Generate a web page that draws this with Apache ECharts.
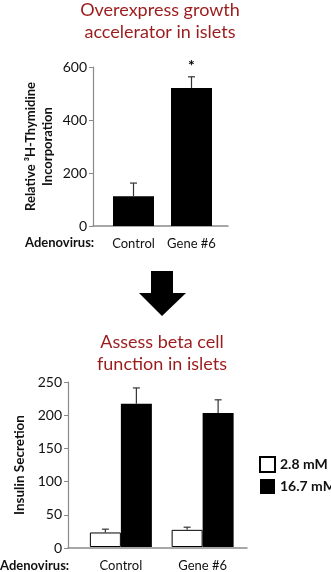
<!DOCTYPE html>
<html>
<head>
<meta charset="utf-8">
<script src="https://cdn.jsdelivr.net/npm/echarts@6/dist/echarts.min.js"></script>
<style>
  html, body { margin: 0; padding: 0; background: #fff; }
  #chart { width: 331px; height: 572px; }
</style>
</head>
<body>
<div id="chart"></div>
<script>
// 上图：胸腺嘧啶掺入
const topCategories = ["Control", "Gene #6"];
const topValues = [112, 521];
const topErrors = [50, 42];
const topMarks = ["", "*"];
const topTicks = { min: 0, max: 600, interval: 200 };

// 下图：胰岛素分泌
const bottomCategories = ["Control", "Gene #6"];
const lowGlucose = [22, 26];
const lowGlucoseErr = [5, 4];
const highGlucose = [217, 203];
const highGlucoseErr = [24, 20];
const bottomTicks = { min: 0, max: 250, interval: 50 };
const legendNames = ["2.8 mM", "16.7 mM"];

const FONT = "Lato";
const RED = "#9b1c1c";
const AXIS = "#8a8a8a";

const chart = echarts.init(document.getElementById("chart"));

// 误差线（只画上半部分）
function errorBar(values, errors, shift, marks) {
  return function (params, api) {
    const i = api.value(0);
    const top = api.coord([i, values[i] + errors[i]]);
    const base = api.coord([i, values[i]]);
    const x = top[0] + shift;
    const children = [
      { type: "line", shape: { x1: x, y1: base[1], x2: x, y2: top[1] }, style: { stroke: "#333", lineWidth: 1.2 } },
      { type: "line", shape: { x1: x - 3.5, y1: top[1], x2: x + 3.5, y2: top[1] }, style: { stroke: "#333", lineWidth: 1.2 } },
    ];
    if (marks && marks[i]) {
      children.push({
        type: "text",
        style: { text: marks[i], x: x, y: top[1] - 11, align: "center", verticalAlign: "middle", font: "bold 16px " + FONT, fill: "#000" },
      });
    }
    return { type: "group", children: children };
  };
}

const hiddenAxis = { show: false };
const titleStyle = { color: RED, fontSize: 18, fontWeight: "normal", lineHeight: 22, fontFamily: FONT };
const boldText = { color: "#111", fontSize: 13, fontWeight: "bold", fontFamily: FONT };

const option = {
  animation: false,
  textStyle: { fontFamily: FONT },
  title: [
    { text: "Overexpress growth\naccelerator in islets", left: 160, top: -1, padding: 0, textAlign: "center", textStyle: titleStyle },
    { text: "Assess beta cell\nfunction in islets", left: 162, top: 331, padding: 0, textAlign: "center", textStyle: titleStyle },
    { text: "Adenovirus:", left: 25, top: 236, padding: 0, textStyle: boldText },
    { text: "Adenovirus:", left: 0, top: 559, padding: 0, textStyle: boldText },
  ],
  legend: {
    data: legendNames,
    orient: "vertical",
    left: 259,
    top: 456,
    padding: 0,
    itemWidth: 15,
    itemHeight: 15,
    itemGap: 6,
    icon: "rect",
    selectedMode: false,
    textStyle: { fontSize: 14, fontWeight: "bold", color: "#111", fontFamily: FONT },
  },
  grid: [
    { left: 93, top: 67, width: 135, height: 159 },
    { left: 104.5, top: 67, width: 116, height: 159 },
    { left: 68, top: 382, width: 179, height: 166 },
    { left: 80, top: 382, width: 163.5, height: 166 },
  ],
  xAxis: [
    { gridIndex: 0, type: "category", data: [], axisLine: { lineStyle: { color: AXIS, width: 1.5 } }, axisTick: { show: false }, axisLabel: { show: false } },
    { gridIndex: 1, type: "category", data: topCategories, axisLine: { show: false }, axisTick: { show: false },
      axisLabel: { interval: 0, margin: 11, fontSize: 13, color: "#111", fontFamily: FONT } },
    { gridIndex: 2, type: "category", data: [], axisLine: { lineStyle: { color: AXIS, width: 1.5 } }, axisTick: { show: false }, axisLabel: { show: false } },
    { gridIndex: 3, type: "category", data: bottomCategories, axisLine: { show: false }, axisTick: { show: false },
      axisLabel: { interval: 0, margin: 12, fontSize: 13, color: "#111", fontFamily: FONT } },
  ],
  yAxis: [
    { gridIndex: 0, type: "value", min: topTicks.min, max: topTicks.max, interval: topTicks.interval,
      axisLine: { show: true, lineStyle: { color: AXIS, width: 1.2 } },
      axisTick: { show: true, length: 4, lineStyle: { color: AXIS } },
      axisLabel: { fontSize: 14, color: "#111", margin: 6, fontFamily: FONT },
      splitLine: { show: false },
      name: "Relative ³H-Thymidine\nIncorporation", nameLocation: "middle", nameRotate: 90, nameGap: 37,
      nameTextStyle: { fontSize: 13, fontWeight: "bold", color: "#111", lineHeight: 17, fontFamily: FONT } },
    { gridIndex: 1, type: "value", min: topTicks.min, max: topTicks.max, ...hiddenAxis },
    { gridIndex: 2, type: "value", min: bottomTicks.min, max: bottomTicks.max, interval: bottomTicks.interval,
      axisLine: { show: true, lineStyle: { color: AXIS, width: 1.2 } },
      axisTick: { show: true, length: 4, lineStyle: { color: AXIS } },
      axisLabel: { fontSize: 14, color: "#111", margin: 6, fontFamily: FONT },
      splitLine: { show: false },
      name: "Insulin Secretion", nameLocation: "middle", nameRotate: 90, nameGap: 37,
      nameTextStyle: { fontSize: 13.5, fontWeight: "bold", color: "#111", fontFamily: FONT } },
    { gridIndex: 3, type: "value", min: bottomTicks.min, max: bottomTicks.max, ...hiddenAxis },
  ],
  series: [
    { type: "bar", xAxisIndex: 1, yAxisIndex: 1, data: topValues, barWidth: 41,
      itemStyle: { color: "#000" } },
    { type: "custom", xAxisIndex: 1, yAxisIndex: 1, data: topCategories.map((c, i) => [i]),
      renderItem: errorBar(topValues, topErrors, 0, topMarks), z: 3 },
    { name: legendNames[0], type: "bar", xAxisIndex: 3, yAxisIndex: 3, data: lowGlucose, barWidth: 31, barGap: "0%",
      itemStyle: { color: "#fff", borderColor: "#000", borderWidth: 1 } },
    { name: legendNames[1], type: "bar", xAxisIndex: 3, yAxisIndex: 3, data: highGlucose, barWidth: 31, barGap: "0%",
      itemStyle: { color: "#000" } },
    { type: "custom", xAxisIndex: 3, yAxisIndex: 3, data: bottomCategories.map((c, i) => [i]),
      renderItem: errorBar(lowGlucose, lowGlucoseErr, -15.5), z: 3 },
    { type: "custom", xAxisIndex: 3, yAxisIndex: 3, data: bottomCategories.map((c, i) => [i]),
      renderItem: errorBar(highGlucose, highGlucoseErr, 15.5), z: 3 },
  ],
  graphic: [
    // 向下箭头
    { type: "polygon", shape: { points: [[151, 271], [173, 271], [173, 293], [186, 293], [162, 316], [139, 293], [151, 293]] },
      style: { fill: "#000" } },
  ],
};

chart.setOption(option);
</script>
</body>
</html>
